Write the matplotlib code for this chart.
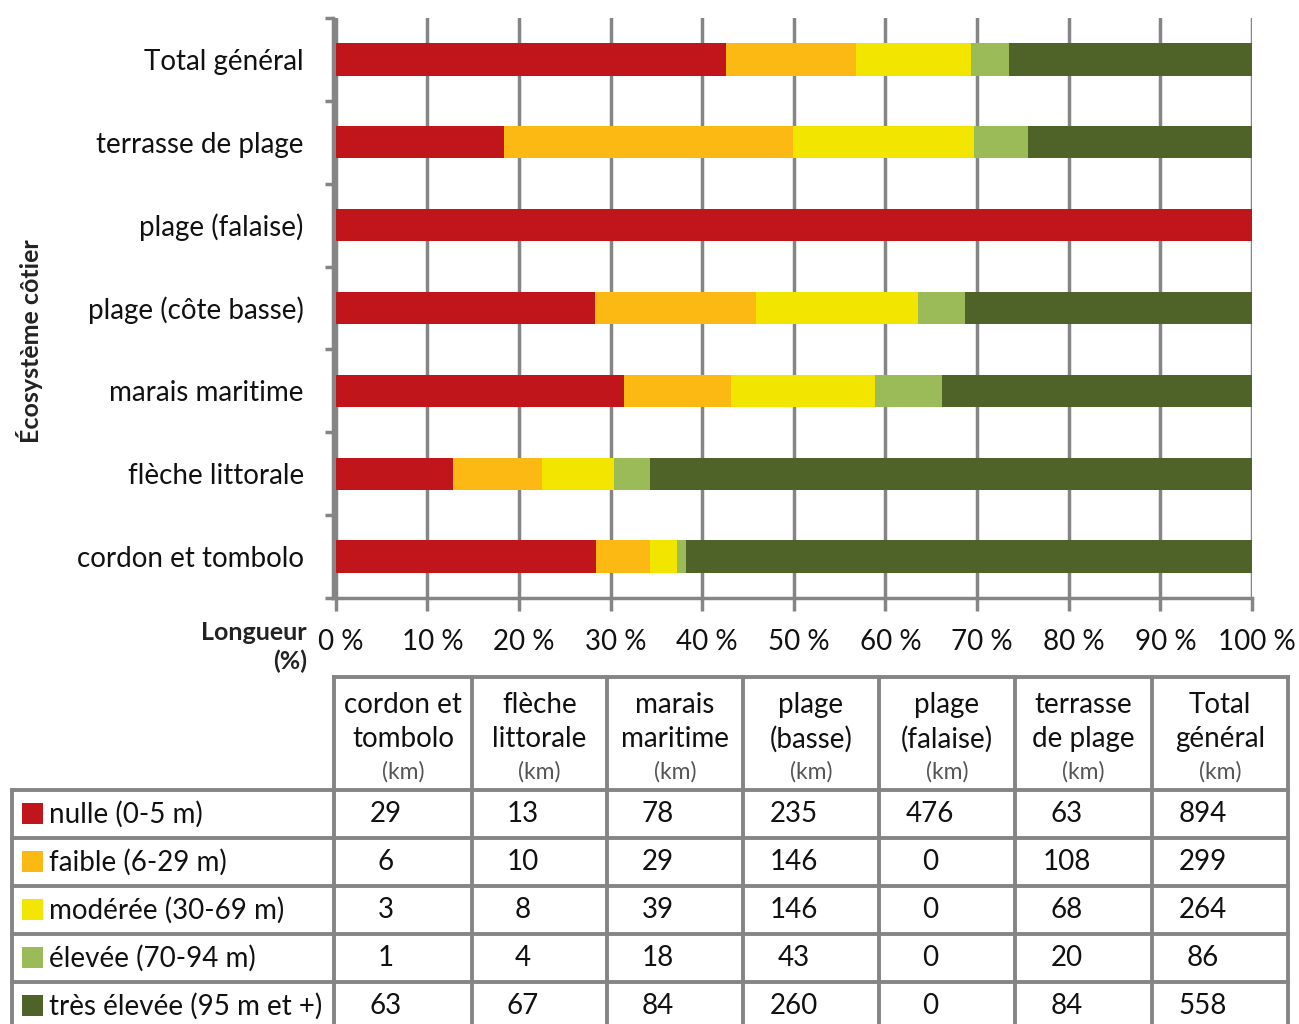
import matplotlib
matplotlib.use("Agg")
import matplotlib.pyplot as plt
import matplotlib.transforms as mtransforms
from matplotlib.lines import Line2D
from matplotlib.patches import Rectangle
import numpy as np

plt.rcParams['font.family'] = ['Lato', 'DejaVu Sans']

# ---------------- data ----------------
ecosystems = ["cordon et tombolo", "flèche littorale", "marais maritime",
              "plage (côte basse)", "plage (falaise)", "terrasse de plage",
              "Total général"]
table_headers = ["cordon et\ntombolo", "flèche\nlittorale", "marais\nmaritime",
                 "plage\n(basse)", "plage\n(falaise)", "terrasse\nde plage",
                 "Total\ngénéral"]
classes = ["nulle (0-5 m)", "faible (6-29 m)", "modérée (30-69 m)",
           "élevée (70-94 m)", "très élevée (95 m et +)"]
nulle = [29, 13, 78, 235, 476, 63, 894]
faible = [6, 10, 29, 146, 0, 108, 299]
moderee = [3, 8, 39, 146, 0, 68, 264]
elevee = [1, 4, 18, 43, 0, 20, 86]
tres_elevee = [63, 67, 84, 260, 0, 84, 558]
x_ticks = [0, 10, 20, 30, 40, 50, 60, 70, 80, 90, 100]
x_ticklabels = ["0 %", "10 %", "20 %", "30 %", "40 %", "50 %",
                "60 %", "70 %", "80 %", "90 %", "100 %"]

colors = ["#C0161B", "#FDB913", "#F2E500", "#9BBB59", "#4F6228"]
grid_gray = "#858585"
txt = "#111111"

series = [nulle, faible, moderee, elevee, tres_elevee]
values = np.array(series, dtype=float)
totals = values.sum(axis=0)
pct = values / totals * 100.0

W, H = 1299, 1024
fig = plt.figure(figsize=(W / 100, H / 100), dpi=100)


def fx(px):
    return px / W


def fy(py):
    return 1 - py / H


# ---------------- bar chart ----------------
ax_l, ax_r, ax_t, ax_b = 333, 1252, 18, 598
ax = fig.add_axes([fx(ax_l), fy(ax_b), fx(ax_r) - fx(ax_l), fy(ax_t) - fy(ax_b)])
for sp in ["top", "right"]:
    ax.spines[sp].set_visible(False)
for sp in ["left", "bottom"]:
    ax.spines[sp].set_color(grid_gray)
    ax.spines[sp].set_linewidth(2.5)
ax.spines["left"].set_position(("data", -0.3))

n = len(ecosystems)
ypos = np.arange(n)
left = np.zeros(n)
for i, s in enumerate(pct):
    ax.barh(ypos, s, left=left, height=0.39, color=colors[i], zorder=3,
            linewidth=0)
    left = left + s

ax.set_xlim(-0.3, 100)
ax.set_ylim(-0.5, n - 0.5)
ax.set_yticks(ypos)
ax.set_yticklabels(ecosystems, fontsize=20, color=txt)
ax.set_yticks(np.arange(-0.5, n, 1.0), minor=True)
ax.tick_params(axis='y', which='major', length=0, pad=21)
ax.tick_params(axis='y', which='minor', length=6, width=2.5, color=grid_gray,
               direction='out')
ax.set_xticks(x_ticks)
ax.set_xticklabels(x_ticklabels, fontsize=20, color=txt)
ax.tick_params(axis='x', which='major', length=9, width=2.5, color=grid_gray,
               direction='out', pad=13)
shift = mtransforms.ScaledTranslation(5 / 100, 0, fig.dpi_scale_trans)
for lab in ax.get_xticklabels():
    lab.set_transform(lab.get_transform() + shift)
ax.grid(axis='x', color=grid_gray, linewidth=2.5, zorder=0)
ax.set_axisbelow(True)

fig.text(fx(30), fy(341), "Écosystème côtier", rotation=90, fontsize=18,
         fontweight='bold', ha='center', va='center', color="#222222")
fig.text(fx(307), fy(647), "Longueur\n(%)", fontsize=18, fontweight='bold',
         ha='right', va='center', color="#222222", linespacing=1.25)

# ---------------- data table ----------------
col_edges = [334, 472, 607, 743, 879, 1015, 1152, 1288]
row_edges = [790, 838, 886, 934, 982, 1030]
tab_left = 12
head_top = 677
lc = grid_gray
lw = 2.8

fig.add_artist(Line2D([fx(col_edges[0]), fx(col_edges[-1])], [fy(head_top)] * 2,
                      color=lc, lw=lw))
for xe in col_edges:
    fig.add_artist(Line2D([fx(xe)] * 2, [fy(head_top), fy(row_edges[-1])],
                          color=lc, lw=lw))
fig.add_artist(Line2D([fx(tab_left)] * 2, [fy(row_edges[0]), fy(row_edges[-1])],
                      color=lc, lw=lw))
for ye in row_edges[:-1]:
    fig.add_artist(Line2D([fx(tab_left), fx(col_edges[-1])], [fy(ye)] * 2,
                          color=lc, lw=lw))

for j, hdr in enumerate(table_headers):
    cx = (col_edges[j] + col_edges[j + 1]) / 2
    fig.text(fx(cx), fy(722), hdr, fontsize=20, ha='center', va='center',
             color=txt, linespacing=1.36)
    fig.text(fx(cx), fy(772), "(km)", fontsize=16.5, ha='center', va='center',
             color="#555555")

for i, cls in enumerate(classes):
    cy = (row_edges[i] + row_edges[i + 1]) / 2
    fig.add_artist(Rectangle((fx(22), fy(cy + 10)), fx(21), fy(0) - fy(21),
                             color=colors[i], lw=0))
    fig.text(fx(49), fy(cy), cls, fontsize=20, ha='left', va='center',
             color=txt)
    for j in range(len(table_headers)):
        cx = (col_edges[j] + col_edges[j + 1]) / 2 - 17
        fig.text(fx(cx), fy(cy), str(series[i][j]), fontsize=20, ha='center',
                 va='center', color=txt)

fig.savefig("out.png", dpi=100, facecolor="white")
